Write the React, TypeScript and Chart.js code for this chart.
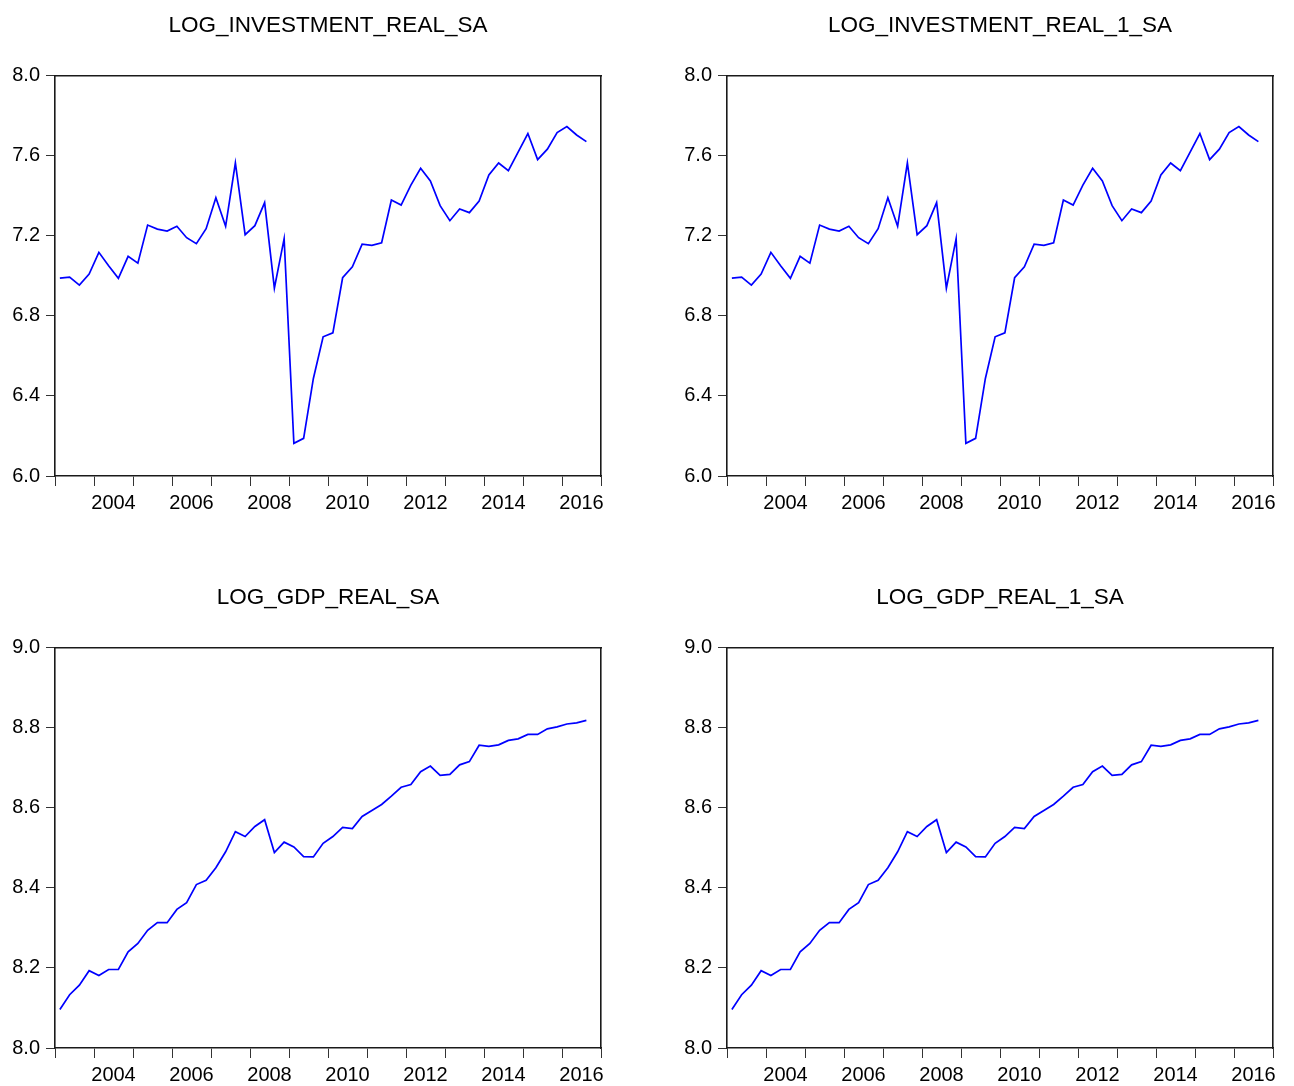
import React, { useEffect, useRef } from "react";
import { Chart, registerables } from "chart.js";

Chart.register(...registerables);

// Quarterly observations 2003Q1 .. 2016Q3
const QUARTERS: string[] = [
  "2003Q1", "2003Q2", "2003Q3", "2003Q4",
  "2004Q1", "2004Q2", "2004Q3", "2004Q4",
  "2005Q1", "2005Q2", "2005Q3", "2005Q4",
  "2006Q1", "2006Q2", "2006Q3", "2006Q4",
  "2007Q1", "2007Q2", "2007Q3", "2007Q4",
  "2008Q1", "2008Q2", "2008Q3", "2008Q4",
  "2009Q1", "2009Q2", "2009Q3", "2009Q4",
  "2010Q1", "2010Q2", "2010Q3", "2010Q4",
  "2011Q1", "2011Q2", "2011Q3", "2011Q4",
  "2012Q1", "2012Q2", "2012Q3", "2012Q4",
  "2013Q1", "2013Q2", "2013Q3", "2013Q4",
  "2014Q1", "2014Q2", "2014Q3", "2014Q4",
  "2015Q1", "2015Q2", "2015Q3", "2015Q4",
  "2016Q1", "2016Q2", "2016Q3",
];

const LOG_INVESTMENT_REAL_SA: number[] = [
  6.988, 6.993, 6.953, 7.008,
  7.117, 7.05, 6.987, 7.097,
  7.063, 7.253, 7.233, 7.223,
  7.247, 7.19, 7.16, 7.235,
  7.39, 7.247, 7.563, 7.205,
  7.25, 7.365, 6.938, 7.185,
  6.163, 6.188, 6.487, 6.695,
  6.715, 6.99, 7.045, 7.158,
  7.152, 7.165, 7.378, 7.353,
  7.453, 7.537, 7.473, 7.35,
  7.275, 7.333, 7.315, 7.373,
  7.503, 7.563, 7.525, 7.617,
  7.71, 7.58, 7.632, 7.715,
  7.745, 7.703, 7.67,
];

const LOG_INVESTMENT_REAL_1_SA: number[] = [
  6.988, 6.993, 6.953, 7.008,
  7.117, 7.05, 6.987, 7.097,
  7.063, 7.253, 7.233, 7.223,
  7.247, 7.19, 7.16, 7.235,
  7.39, 7.247, 7.563, 7.205,
  7.25, 7.365, 6.938, 7.185,
  6.163, 6.188, 6.487, 6.695,
  6.715, 6.99, 7.045, 7.158,
  7.152, 7.165, 7.378, 7.353,
  7.453, 7.537, 7.473, 7.35,
  7.275, 7.333, 7.315, 7.373,
  7.503, 7.563, 7.525, 7.617,
  7.71, 7.58, 7.632, 7.715,
  7.745, 7.703, 7.67,
];

const LOG_GDP_REAL_SA: number[] = [
  8.096, 8.133, 8.157, 8.193,
  8.181, 8.196, 8.196, 8.24,
  8.261, 8.294, 8.313, 8.313,
  8.346, 8.363, 8.408, 8.419,
  8.45, 8.49, 8.54, 8.528,
  8.553, 8.57, 8.488, 8.514,
  8.502, 8.478, 8.477, 8.511,
  8.528, 8.551, 8.548, 8.578,
  8.593, 8.608, 8.629, 8.651,
  8.658, 8.69, 8.704, 8.681,
  8.683, 8.707, 8.715, 8.756,
  8.753, 8.757, 8.768, 8.772,
  8.783, 8.783, 8.797, 8.802,
  8.809, 8.812, 8.818,
];

const LOG_GDP_REAL_1_SA: number[] = [
  8.096, 8.133, 8.157, 8.193,
  8.181, 8.196, 8.196, 8.24,
  8.261, 8.294, 8.313, 8.313,
  8.346, 8.363, 8.408, 8.419,
  8.45, 8.49, 8.54, 8.528,
  8.553, 8.57, 8.488, 8.514,
  8.502, 8.478, 8.477, 8.511,
  8.528, 8.551, 8.548, 8.578,
  8.593, 8.608, 8.629, 8.651,
  8.658, 8.69, 8.704, 8.681,
  8.683, 8.707, 8.715, 8.756,
  8.753, 8.757, 8.768, 8.772,
  8.783, 8.783, 8.797, 8.802,
  8.809, 8.812, 8.818,
];

const X_TICK_YEARS: number[] = [2003, 2004, 2005, 2006, 2007, 2008, 2009, 2010, 2011, 2012, 2013, 2014, 2015, 2016, 2017];
const X_LABEL_YEARS: number[] = [2004, 2006, 2008, 2010, 2012, 2014, 2016];
const INV_Y_TICKS: number[] = [6.0, 6.4, 6.8, 7.2, 7.6, 8.0];
const GDP_Y_TICKS: number[] = [8.0, 8.2, 8.4, 8.6, 8.8, 9.0];

const FONT = '"Liberation Sans", Arial, sans-serif';
const CANVAS_W = 622;
const CANVAS_H = 514;

function quarterToX(q: string): number {
  const year = parseInt(q.slice(0, 4), 10);
  const qu = parseInt(q.slice(5), 10);
  return year + (qu - 0.5) / 4;
}

type PanelProps = {
  title: string;
  values: number[];
  yTicks: number[];
  left: number;
  top: number;
};

function Panel({ title, values, yTicks, left, top }: PanelProps) {
  const ref = useRef<HTMLCanvasElement | null>(null);

  useEffect(() => {
    if (!ref.current) return;
    const xMin = X_TICK_YEARS[0];
    const xMax = X_TICK_YEARS[X_TICK_YEARS.length - 1];
    const yMin = yTicks[0];
    const yMax = yTicks[yTicks.length - 1];
    const points = values.map((v, i) => ({ x: quarterToX(QUARTERS[i]), y: v }));
    const tickFont = { family: FONT, size: 20 };

    const chart = new Chart(ref.current, {
      type: "line",
      data: {
        datasets: [
          {
            data: points,
            borderColor: "#0000ff",
            borderWidth: 1.7,
            pointRadius: 0,
            fill: false,
            tension: 0,
          },
        ],
      },
      options: {
        responsive: false,
        animation: false,
        devicePixelRatio: 1,
        layout: { padding: 0 },
        plugins: {
          legend: { display: false },
          tooltip: { enabled: false },
          title: {
            display: true,
            text: title,
            color: "#000",
            fullSize: false,
            font: { family: FONT, size: 22.5, weight: "normal", lineHeight: 1.2 },
            padding: { top: 12, bottom: 36.5 },
          },
        },
        scales: {
          x: {
            type: "linear",
            position: "bottom",
            min: xMin,
            max: xMax,
            afterBuildTicks: (s: any) => {
              s.ticks = X_TICK_YEARS.map((v) => ({ value: v }));
            },
            afterFit: (s: any) => {
              s.height = 38;
            },
            ticks: {
              autoSkip: false,
              maxRotation: 0,
              minRotation: 0,
              labelOffset: 19.5,
              padding: 5,
              color: "#000",
              font: tickFont,
              callback: (v: any) => (X_LABEL_YEARS.includes(Number(v)) ? String(v) : ""),
            },
            grid: {
              display: true,
              drawOnChartArea: false,
              drawTicks: true,
              tickLength: 10,
              color: "#333",
              lineWidth: 1,
            },
            border: { display: true, color: "#1a1a1a", width: 1.6 },
          },
          y: {
            type: "linear",
            position: "left",
            min: yMin,
            max: yMax,
            afterBuildTicks: (s: any) => {
              s.ticks = yTicks.map((v) => ({ value: v }));
            },
            afterFit: (s: any) => {
              s.width = 55;
            },
            ticks: {
              padding: 6,
              color: "#000",
              font: tickFont,
              callback: (v: any) => Number(v).toFixed(1),
            },
            grid: {
              display: true,
              drawOnChartArea: false,
              drawTicks: true,
              tickLength: 9,
              color: "#333",
              lineWidth: 1,
            },
            border: { display: true, color: "#1a1a1a", width: 1.6 },
          },
          xTop: {
            type: "linear",
            position: "top",
            display: true,
            min: xMin,
            max: xMax,
            afterFit: (s: any) => {
              s.height = 0;
            },
            ticks: { display: false },
            grid: { display: false, drawTicks: false },
            border: { display: true, color: "#1a1a1a", width: 1.6 },
          },
          yRight: {
            type: "linear",
            position: "right",
            display: true,
            min: yMin,
            max: yMax,
            afterFit: (s: any) => {
              s.width = CANVAS_W - 601;
            },
            ticks: { display: false },
            grid: { display: false, drawTicks: false },
            border: { display: true, color: "#1a1a1a", width: 1.6 },
          },
        },
      },
    } as any);

    return () => {
      chart.destroy();
    };
  }, [title, values, yTicks]);

  return (
    <div style={{ position: "absolute", left, top, width: CANVAS_W, height: CANVAS_H }}>
      <canvas ref={ref} width={CANVAS_W} height={CANVAS_H} style={{ width: CANVAS_W, height: CANVAS_H, display: "block" }} />
    </div>
  );
}

export default function App() {
  return (
    <div style={{ position: "absolute", left: 0, top: 0, width: 1294, height: 1086, background: "#fff", overflow: "hidden" }}>
      <Panel title="LOG_INVESTMENT_REAL_SA" values={LOG_INVESTMENT_REAL_SA} yTicks={INV_Y_TICKS} left={0} top={0} />
      <Panel title="LOG_INVESTMENT_REAL_1_SA" values={LOG_INVESTMENT_REAL_1_SA} yTicks={INV_Y_TICKS} left={672} top={0} />
      <Panel title="LOG_GDP_REAL_SA" values={LOG_GDP_REAL_SA} yTicks={GDP_Y_TICKS} left={0} top={572} />
      <Panel title="LOG_GDP_REAL_1_SA" values={LOG_GDP_REAL_1_SA} yTicks={GDP_Y_TICKS} left={672} top={572} />
    </div>
  );
}
